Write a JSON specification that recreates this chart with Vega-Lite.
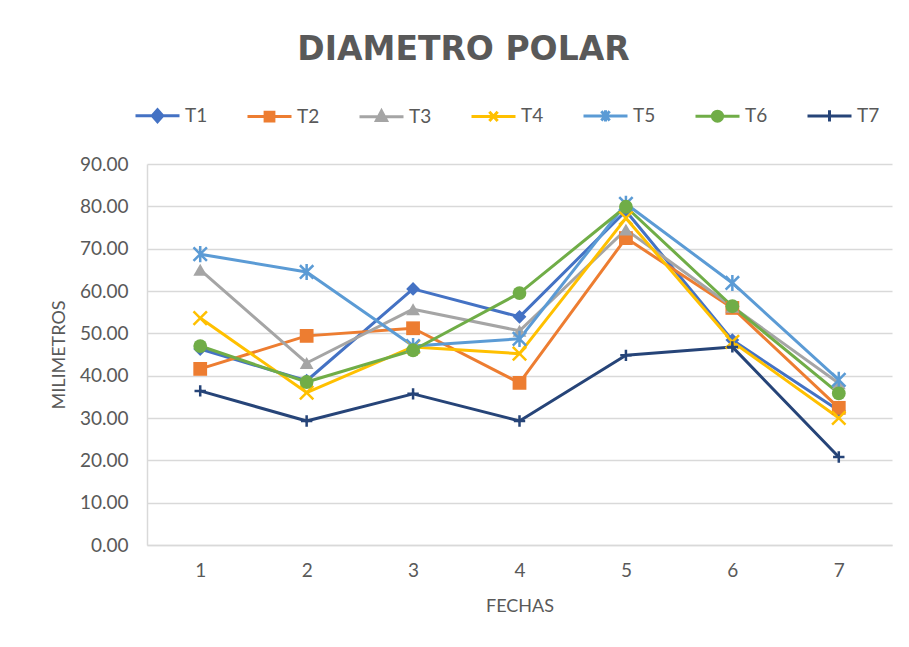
{
  "$schema": "https://vega.github.io/schema/vega-lite/v6.json",
  "width": 745,
  "height": 381,
  "autosize": "none",
  "padding": {"left": 147, "top": 164, "right": 17, "bottom": 102},
  "background": "white",
  "title": {
    "text": "DIAMETRO POLAR",
    "font": "DejaVu Sans",
    "fontSize": 33,
    "fontWeight": "bold",
    "color": "#595959",
    "anchor": "middle",
    "dx": -56,
    "offset": 25
  },
  "data": {
    "values": [
      {"fecha": 1, "serie": "T1", "valor": 46.3}, {"fecha": 2, "serie": "T1", "valor": 38.8}, {"fecha": 3, "serie": "T1", "valor": 60.5}, {"fecha": 4, "serie": "T1", "valor": 53.9}, {"fecha": 5, "serie": "T1", "valor": 78.9}, {"fecha": 6, "serie": "T1", "valor": 48.4}, {"fecha": 7, "serie": "T1", "valor": 31.8},
      {"fecha": 1, "serie": "T2", "valor": 41.6}, {"fecha": 2, "serie": "T2", "valor": 49.4}, {"fecha": 3, "serie": "T2", "valor": 51.2}, {"fecha": 4, "serie": "T2", "valor": 38.3}, {"fecha": 5, "serie": "T2", "valor": 72.5}, {"fecha": 6, "serie": "T2", "valor": 56.0}, {"fecha": 7, "serie": "T2", "valor": 32.4},
      {"fecha": 1, "serie": "T3", "valor": 65.0}, {"fecha": 2, "serie": "T3", "valor": 43.0}, {"fecha": 3, "serie": "T3", "valor": 55.7}, {"fecha": 4, "serie": "T3", "valor": 50.6}, {"fecha": 5, "serie": "T3", "valor": 74.5}, {"fecha": 6, "serie": "T3", "valor": 56.3}, {"fecha": 7, "serie": "T3", "valor": 38.2},
      {"fecha": 1, "serie": "T4", "valor": 53.6}, {"fecha": 2, "serie": "T4", "valor": 36.0}, {"fecha": 3, "serie": "T4", "valor": 46.8}, {"fecha": 4, "serie": "T4", "valor": 45.2}, {"fecha": 5, "serie": "T4", "valor": 77.2}, {"fecha": 6, "serie": "T4", "valor": 48.0}, {"fecha": 7, "serie": "T4", "valor": 30.0},
      {"fecha": 1, "serie": "T5", "valor": 68.7}, {"fecha": 2, "serie": "T5", "valor": 64.5}, {"fecha": 3, "serie": "T5", "valor": 47.0}, {"fecha": 4, "serie": "T5", "valor": 48.7}, {"fecha": 5, "serie": "T5", "valor": 80.6}, {"fecha": 6, "serie": "T5", "valor": 61.9}, {"fecha": 7, "serie": "T5", "valor": 39.0},
      {"fecha": 1, "serie": "T6", "valor": 47.0}, {"fecha": 2, "serie": "T6", "valor": 38.5}, {"fecha": 3, "serie": "T6", "valor": 46.0}, {"fecha": 4, "serie": "T6", "valor": 59.5}, {"fecha": 5, "serie": "T6", "valor": 79.9}, {"fecha": 6, "serie": "T6", "valor": 56.4}, {"fecha": 7, "serie": "T6", "valor": 35.8},
      {"fecha": 1, "serie": "T7", "valor": 36.4}, {"fecha": 2, "serie": "T7", "valor": 29.3}, {"fecha": 3, "serie": "T7", "valor": 35.7}, {"fecha": 4, "serie": "T7", "valor": 29.3}, {"fecha": 5, "serie": "T7", "valor": 44.8}, {"fecha": 6, "serie": "T7", "valor": 46.8}, {"fecha": 7, "serie": "T7", "valor": 20.8}
    ]
  },
  "encoding": {
    "x": {
      "field": "fecha",
      "type": "ordinal",
      "scale": {"type": "point", "padding": 0.5},
      "axis": {"title": "FECHAS", "labelAngle": 0, "grid": false, "labelPadding": 16, "titlePadding": 17, "domain": true}
    },
    "y": {
      "field": "valor",
      "type": "quantitative",
      "scale": {"domain": [0, 90], "nice": false},
      "axis": {"title": "MILIMETROS", "values": [0, 10, 20, 30, 40, 50, 60, 70, 80, 90], "format": ".2f", "grid": true, "labelPadding": 19, "titlePadding": 11}
    },
    "color": {
      "field": "serie",
      "type": "nominal",
      "scale": {
        "domain": ["T1", "T2", "T3", "T4", "T5", "T6", "T7"],
        "range": ["#4472C4", "#ED7D31", "#A5A5A5", "#FFC000", "#5B9BD5", "#70AD47", "#264478"]
      },
      "legend": {
        "orient": "none",
        "legendX": -13,
        "legendY": -72,
        "direction": "horizontal",
        "columns": 7,
        "title": null,
        "symbolSize": 1936,
        "symbolStrokeWidth": 3,
        "symbolOpacity": 1,
        "labelFont": "Lato",
        "labelFontSize": 19,
        "labelColor": "#595959",
        "labelOffset": 4,
        "columnPadding": 33
      }
    }
  },
  "layer": [
    {
      "mark": {"type": "line", "strokeWidth": 3, "strokeJoin": "round"}
    },
    {
      "transform": [{"filter": "datum.serie == 'T1'"}],
      "mark": {"type": "point", "shape": "diamond", "filled": true, "opacity": 1, "size": 190}
    },
    {
      "transform": [{"filter": "datum.serie == 'T2'"}],
      "mark": {"type": "point", "shape": "square", "filled": true, "opacity": 1, "size": 190}
    },
    {
      "transform": [{"filter": "datum.serie == 'T3'"}],
      "mark": {"type": "point", "shape": "triangle-up", "filled": true, "opacity": 1, "size": 190}
    },
    {
      "transform": [{"filter": "datum.serie == 'T4'"}],
      "mark": {"type": "point", "shape": "M-1,-1L1,1M-1,1L1,-1", "filled": false, "opacity": 1, "size": 180, "strokeWidth": 2.5}
    },
    {
      "transform": [{"filter": "datum.serie == 'T5'"}],
      "mark": {"type": "point", "shape": "M-1,-1L1,1M-1,1L1,-1M0,-1.2L0,1.2", "filled": false, "opacity": 1, "size": 180, "strokeWidth": 2.5}
    },
    {
      "transform": [{"filter": "datum.serie == 'T6'"}],
      "mark": {"type": "point", "shape": "circle", "filled": true, "opacity": 1, "size": 190}
    },
    {
      "transform": [{"filter": "datum.serie == 'T7'"}],
      "mark": {"type": "point", "shape": "M-0.9,0L0.9,0M0,-0.9L0,0.9", "filled": false, "opacity": 1, "size": 160, "strokeWidth": 2.5}
    },
    {
      "mark": {"type": "point", "filled": true, "opacity": 0, "size": 1, "strokeWidth": 3},
      "encoding": {
        "stroke": {
          "field": "serie",
          "type": "nominal",
          "scale": {
            "domain": ["T1", "T2", "T3", "T4", "T5", "T6", "T7"],
            "range": ["#4472C4", "#ED7D31", "#A5A5A5", "#FFC000", "#5B9BD5", "#70AD47", "#264478"]
          }
        },
        "shape": {
          "field": "serie",
          "type": "nominal",
          "scale": {
            "domain": ["T1", "T2", "T3", "T4", "T5", "T6", "T7"],
            "range": [
              "M-1,0L1,0M0,-0.27L0.24,0L0,0.27L-0.24,0Z",
              "M-1,0L1,0M-0.2,-0.2L0.2,-0.2L0.2,0.2L-0.2,0.2Z",
              "M-1,0L1,0M0,-0.26L0.23,0.17L-0.23,0.17Z",
              "M-1,0L1,0M-0.19,-0.21L0.19,0.21M-0.19,0.21L0.19,-0.21",
              "M-1,0L1,0M-0.19,-0.21L0.19,0.21M-0.19,0.21L0.19,-0.21M0,-0.26L0,0.26",
              "M-1,0L1,0M0.23,0A0.23,0.23 0 1 1 -0.23,0A0.23,0.23 0 1 1 0.23,0Z",
              "M-1,0L1,0M0,-0.26L0,0.26"
            ]
          }
        }
      }
    }
  ],
  "config": {
    "view": {"stroke": null},
    "axis": {
      "labelFont": "Lato",
      "titleFont": "Lato",
      "labelColor": "#595959",
      "titleColor": "#595959",
      "labelFontSize": 19,
      "titleFontSize": 18,
      "titleFontWeight": "normal",
      "gridColor": "#d9d9d9",
      "gridWidth": 1.5,
      "domainColor": "#d9d9d9",
      "domainWidth": 1.5,
      "ticks": false
    }
  }
}
